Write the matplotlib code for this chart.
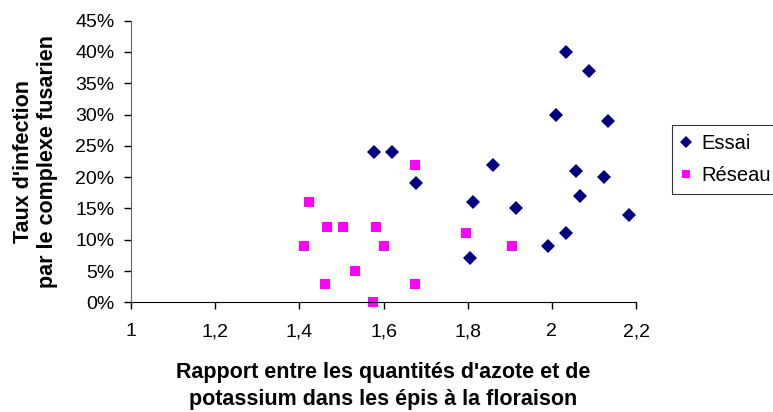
import matplotlib
matplotlib.use("Agg")
import matplotlib.pyplot as plt
from matplotlib.ticker import FixedLocator

plt.rcParams['font.family'] = ['Liberation Sans', 'DejaVu Sans']

# Essai : rapport N/K vs taux d'infection (%)
essai_x = [1.577, 1.621, 1.678, 2.033, 2.089, 2.010, 2.133, 1.860, 2.057,
           2.124, 2.068, 1.813, 1.915, 2.183, 2.033, 1.990, 1.805]
essai_y = [24, 24, 19, 40, 37, 30, 29, 22, 21, 20, 17, 16, 15, 14, 11, 9, 7]

# Réseau
reseau_x = [1.676, 1.422, 1.465, 1.504, 1.583, 1.410, 1.602, 1.532, 1.461,
            1.676, 1.575, 1.795, 1.906]
reseau_y = [22, 16, 12, 12, 12, 9, 9, 5, 3, 3, 0, 11, 9]

x_ticks = [1, 1.2, 1.4, 1.6, 1.8, 2, 2.2]
x_labels = ['1', '1,2', '1,4', '1,6', '1,8', '2', '2,2']
y_ticks = list(range(0, 50, 5))
y_labels = [f'{v}%' for v in y_ticks]

fig = plt.figure(figsize=(7.73, 4.12), dpi=100)
ax = fig.add_axes([131/773, 1 - 302.3/412, (636 - 131)/773, (302.3 - 20.7)/412])

ax.plot(essai_x, essai_y, linestyle='none', marker='D', markersize=7.2,
        color='#000080', markeredgewidth=0, label='Essai', clip_on=False)
ax.plot(reseau_x, reseau_y, linestyle='none', marker='s', markersize=7.4,
        color='#FF00FF', markeredgewidth=0, label='Réseau', clip_on=False)

ax.set_xlim(1, 2.2)
ax.set_ylim(0, 45)
ax.xaxis.set_major_locator(FixedLocator(x_ticks))
ax.set_xticklabels(x_labels)
ax.yaxis.set_major_locator(FixedLocator(y_ticks))
ax.set_yticklabels(y_labels)
ax.tick_params(axis='both', labelsize=14, length=5, width=1, direction='out', colors='black')
ax.tick_params(axis='x', pad=10)
ax.tick_params(axis='y', pad=7)

for s in ['top', 'right']:
    ax.spines[s].set_visible(False)
ax.spines['left'].set_color('#606060')
ax.spines['bottom'].set_color('black')

ax.set_xlabel("Rapport entre les quantités d'azote et de\npotassium dans les épis à la floraison",
              fontsize=15.5, fontweight='bold', labelpad=16, linespacing=1.35)
ax.set_ylabel("Taux d'infection\npar le complexe fusarien",
              fontsize=15.5, fontweight='bold', labelpad=12, linespacing=1.2)

leg = ax.legend(loc='upper left', bbox_to_anchor=(672/773, 1 - 125/412),
                bbox_transform=fig.transFigure, frameon=True, fancybox=False,
                fontsize=14.5, handlelength=0.5, handletextpad=0.5, markerscale=0.8,
                borderpad=0.45, labelspacing=0.65, borderaxespad=0)
leg.get_frame().set_edgecolor('black')
leg.get_frame().set_linewidth(0.8)

fig.savefig('out.png', dpi=100)
